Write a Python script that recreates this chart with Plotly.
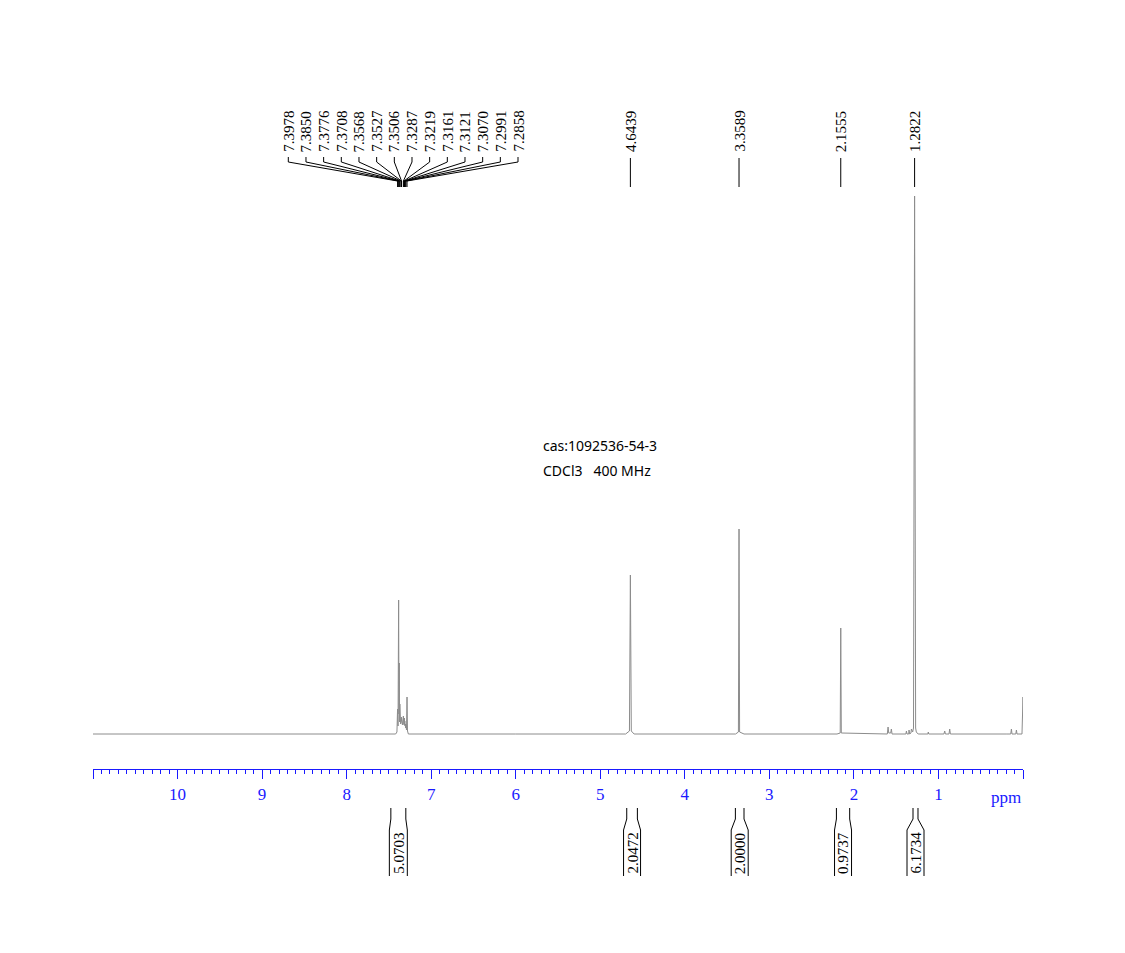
import plotly.graph_objects as go

# ---------------- data ----------------
spec_ppm = [11.0, 8.60, 8.00, 7.50, 7.420, 7.405, 7.3978, 7.392, 7.3850, 7.381, 7.3776, 7.374,
            7.3708, 7.362, 7.3568, 7.354, 7.3527, 7.3515, 7.3506, 7.340, 7.3287, 7.325,
            7.3219, 7.319, 7.3161, 7.314, 7.3121, 7.309, 7.3070, 7.302, 7.2991, 7.292,
            7.2858, 7.280, 7.270, 6.00, 4.70, 4.655, 4.6439, 4.633, 4.60, 3.40, 3.366,
            3.3589, 3.352, 3.30, 2.20, 2.162, 2.1555, 2.149, 1.70, 1.605, 1.596, 1.588,
            1.565, 1.557, 1.549, 1.50, 1.385, 1.379, 1.372, 1.352, 1.348, 1.340, 1.325,
            1.320, 1.305, 1.295, 1.2822, 1.270, 1.262, 1.24, 1.125, 1.120, 1.115, 0.935,
            0.926, 0.918, 0.875, 0.867, 0.859, 0.20, 0.145, 0.137, 0.130, 0.085, 0.078,
            0.071, 0.012, 0.0, -0.01]
spec_int = [0, 0, 0, 0, 0, 2, 25, 8, 134, 20, 71, 12,
            30, 10, 16, 12, 17, 13, 16, 9, 18, 10,
            14, 9, 16, 10, 13, 8, 10, 6, 10, 4,
            37, 3, 0, 0, 0, 3, 159, 3, 0, 0, 2,
            205, 2, 0, 0, 1, 106, 1, 0, 0, 7, 1,
            1, 5, 0, 0, 0, 3, 0, 0, 4, 0, 1,
            5, 2, 6, 538, 6, 2, 0, 0, 2, 0, 0,
            3, 0, 0, 5, 0, 0, 0, 5, 0, 0, 4,
            0, 0, 37, 0]

aromatic_labels = ["7.3978", "7.3850", "7.3776", "7.3708", "7.3568", "7.3527", "7.3506",
                   "7.3287", "7.3219", "7.3161", "7.3121", "7.3070", "7.2991", "7.2858"]
single_labels = ["4.6439", "3.3589", "2.1555", "1.2822"]

integral_start = [7.477, 4.687, 3.402, 2.207, 1.301]
integral_end = [7.300, 4.561, 3.300, 2.050, 1.242]
integral_values = ["5.0703", "2.0472", "2.0000", "0.9737", "6.1734"]

tick_vals = list(range(0, 12))
tick_text = ["" if v in (0, 11) else str(v) for v in tick_vals]

# ---------------- layout helpers ----------------
W, H = 1125, 953
L, R, T, B = 93, 102, 0, 184
PW, PH = W - L - R, H - T - B
XMAX = 11.0


def ppm2px(p):
    return L + (XMAX - p) / XMAX * PW


def pxx(x):
    return (x - L) / PW


def pxy(y):
    return (H - B - y) / PH


fig = go.Figure()
fig.add_trace(go.Scatter(x=spec_ppm, y=spec_int, mode="lines",
                         line=dict(color="#8c8c8c", width=1), hoverinfo="skip",
                         showlegend=False))

shapes = []
annotations = []
LABEL_FONT = dict(family="Liberation Serif", size=15, color="black")
LINE = dict(color="black", width=1)

# aromatic multiplet labels
n = len(aromatic_labels)
x0, x1 = 288.3, 518.0
for i, lab in enumerate(aromatic_labels):
    lx = x0 + (x1 - x0) * i / (n - 1)
    pk = ppm2px(float(lab))
    annotations.append(dict(x=pxx(lx), y=pxy(154), xref="paper", yref="paper",
                            text=lab, textangle=-90, showarrow=False,
                            xanchor="center", yanchor="bottom", font=LABEL_FONT))
    shapes.append(dict(type="path", xref="paper", yref="paper",
                       path=f"M {pxx(lx)},{pxy(157)} L {pxx(lx)},{pxy(162)} "
                            f"L {pxx(pk)},{pxy(181)} L {pxx(pk)},{pxy(187)}",
                       line=LINE))

for lab in single_labels:
    pk = ppm2px(float(lab))
    annotations.append(dict(x=pxx(pk), y=pxy(154), xref="paper", yref="paper",
                            text=lab, textangle=-90, showarrow=False,
                            xanchor="center", yanchor="bottom", font=LABEL_FONT))
    shapes.append(dict(type="line", xref="paper", yref="paper",
                       x0=pxx(pk), x1=pxx(pk), y0=pxy(158), y1=pxy(187), line=LINE))

# integrals
for s, e, v in zip(integral_start, integral_end, integral_values):
    a, b = ppm2px(s), ppm2px(e)
    c = (a + b) / 2
    half = max((b - a) / 2 + 1.5, 8.5)
    la, lb = c - half, c + half
    for top, bot in ((a, la), (b, lb)):
        shapes.append(dict(type="path", xref="paper", yref="paper",
                           path=f"M {pxx(top)},{pxy(808)} L {pxx(top)},{pxy(819)} "
                                f"L {pxx(bot)},{pxy(830)} L {pxx(bot)},{pxy(876)}",
                           line=LINE))
    annotations.append(dict(x=pxx(c), y=pxy(876), xref="paper", yref="paper",
                            text=v, textangle=-90, showarrow=False,
                            xanchor="center", yanchor="bottom", font=LABEL_FONT))

annotations.append(dict(x=pxx(1023), y=pxy(797), xref="paper", yref="paper",
                        text="ppm", showarrow=False, xanchor="right", yanchor="middle",
                        font=dict(family="Liberation Serif", size=17, color="#1a1aff")))
annotations.append(dict(x=pxx(541), y=pxy(445), xref="paper", yref="paper",
                        text="cas:1092536-54-3", showarrow=False, xanchor="left",
                        yanchor="middle", font=dict(family="Noto Sans", size=14, color="black")))
annotations.append(dict(x=pxx(541), y=pxy(471), xref="paper", yref="paper",
                        text="CDCl3\u00a0\u00a0\u00a0400 MHz", showarrow=False, xanchor="left",
                        yanchor="middle", font=dict(family="Noto Sans", size=14, color="black")))

AX = "#1a1aff"
fig.update_layout(
    width=W, height=H, margin=dict(l=L, r=R, t=T, b=B, pad=0),
    plot_bgcolor="white", paper_bgcolor="white", showlegend=False,
    shapes=shapes, annotations=annotations,
    xaxis=dict(range=[XMAX, 0], showgrid=False, zeroline=False, showline=True,
               linecolor=AX, linewidth=1.3, ticks="outside", ticklen=9, tickwidth=1.3,
               tickcolor=AX, tickvals=tick_vals, ticktext=tick_text,
               tickfont=dict(family="Liberation Serif", size=17, color=AX),
               minor=dict(dtick=0.1, tick0=0, ticks="outside", ticklen=4, tickcolor=AX,
                          tickwidth=1, showgrid=False)),
    yaxis=dict(range=[-35, 734], visible=False, showgrid=False, zeroline=False),
)

fig.write_html("out.html")
